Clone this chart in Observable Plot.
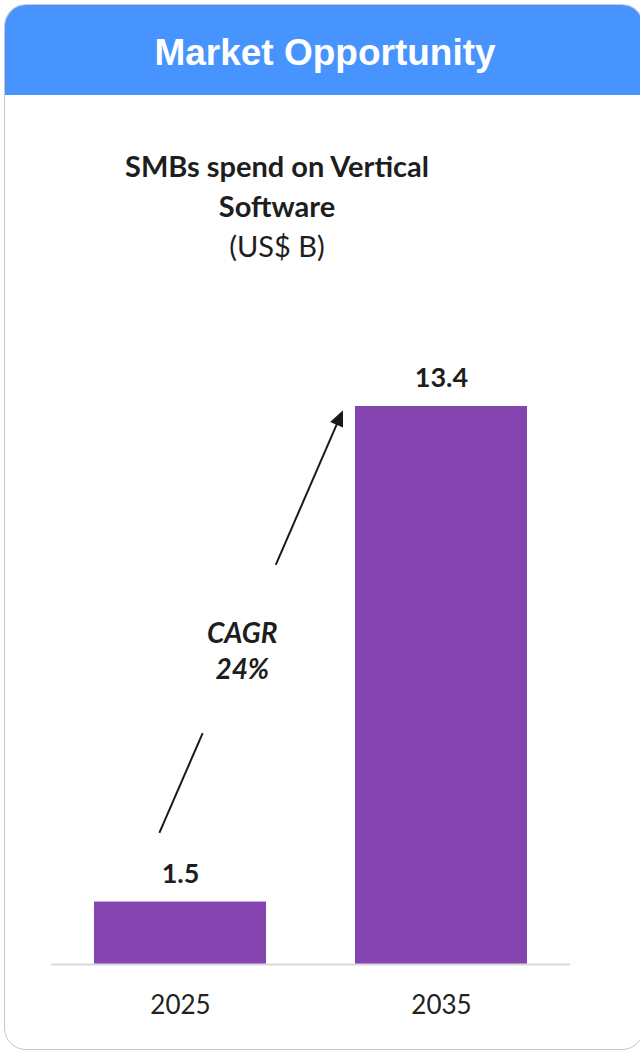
<!DOCTYPE html>
<html>
<head>
<meta charset="utf-8">
<script src="https://cdn.jsdelivr.net/npm/d3@7"></script>
<script src="https://cdn.jsdelivr.net/npm/@observablehq/plot@0.6"></script>
<style>
  html, body { margin: 0; padding: 0; background: #fff; }
  body { width: 640px; height: 1053px; position: relative; overflow: hidden; font-family: Lato, "Open Sans", sans-serif; }
  #card { position: absolute; left: 4px; top: 4px; width: 640px; height: 1046px; box-sizing: border-box;
          border: 1.5px solid #c8c8c8; border-radius: 22px; overflow: hidden; background: #fff; }
  #header { position: absolute; left: 0; top: 0; width: 100%; height: 90px; background: #4794fe; }
  #title { position: absolute; left: 0; width: 640px; top: 0; height: 90px; line-height: 96px; text-align: center;
           color: #fff; font-family: "Liberation Sans", Arial, sans-serif; font-weight: bold; font-size: 37px; }
  #subtitle { position: absolute; left: 57px; width: 440px; top: 146px; text-align: center; color: #1e1e1e;
              font-family: Lato, sans-serif; font-size: 29px; line-height: 40px; }
  #subtitle .b { font-weight: bold; }
  #chart { position: absolute; left: 0; top: 300px; }
</style>
</head>
<body>
<div id="card">
  <div id="header"></div>
  <div id="title">Market Opportunity</div>
</div>
<div id="subtitle"><div class="b">SMBs spend on Vertical</div><div class="b">Software</div><div>(US$ B)</div></div>
<div id="chart"></div>
<script>
const years = ["2025", "2035"];
const spend = [1.5, 13.4];
const valueLabels = ["1.5", "13.4"];
const cagrLines = ["CAGR", "24%"];

const data = years.map((year, i) => ({year, value: spend[i], label: valueLabels[i]}));

function cagrArrow(index, scales) {
  const x = scales.x, y = scales.y;
  let bw = x.bandwidth;
  if (typeof bw === "function") bw = bw();
  const xa = x(years[0]) + 0.38 * bw, ya = y(3.15);
  const xb = x(years[1]) - 0.07 * bw, yb = y(13.3);
  const dx = xb - xa, dy = yb - ya;
  const len = Math.hypot(dx, dy);
  const ux = dx / len, uy = dy / len;
  const nx = -uy, ny = ux;
  const pt = t => [xa + dx * t, ya + dy * t];
  const g = d3.create("svg:g");
  const headL = 16, headW = 7;
  const segs = [[0, 0.236], [0.634, 1 - headL / len * 0.6]];
  for (const [t0, t1] of segs) {
    const [p0x, p0y] = pt(t0), [p1x, p1y] = pt(t1);
    g.append("line").attr("x1", p0x).attr("y1", p0y).attr("x2", p1x).attr("y2", p1y)
      .attr("stroke", "#1a1a1a").attr("stroke-width", 2);
  }
  const bx = xb - ux * headL, by = yb - uy * headL;
  g.append("path")
    .attr("d", `M${xb},${yb}L${bx + nx * headW},${by + ny * headW}L${bx - nx * headW},${by - ny * headW}Z`)
    .attr("fill", "#1a1a1a");
  const [cx, cy] = pt(0.43);
  const txt = g.append("text").attr("text-anchor", "middle")
    .attr("font-family", "Lato, sans-serif").attr("font-weight", "bold").attr("font-style", "italic")
    .attr("font-size", 28).attr("fill", "#1e1e1e");
  cagrLines.forEach((s, i) => {
    txt.append("tspan").attr("x", cx + 4).attr("y", cy - 8 + i * 36).text(s);
  });
  return g.node();
}

const chart = Plot.plot({
  width: 640,
  height: 740,
  marginLeft: 51,
  marginRight: 70,
  marginTop: 81,
  marginBottom: 76,
  x: {domain: years, paddingInner: 0.34, paddingOuter: 0.164, label: null},
  y: {domain: [0, 14], axis: null},
  style: {fontFamily: "Lato, sans-serif", background: "transparent", overflow: "visible"},
  marks: [
    Plot.barY(data, {x: "year", y: "value", fill: "#8445b1"}),
    Plot.ruleY([0], {stroke: "#d9d9d9", strokeWidth: 2}),
    Plot.text(data, {x: "year", y: "value", text: "label", dy: -28, fontSize: 27, fontWeight: "bold", fill: "#1e1e1e"}),
    Plot.axisX({tickSize: 0, tickPadding: 31, fontSize: 26, fill: "#222", label: null}),
    cagrArrow
  ]
});
document.getElementById("chart").appendChild(chart);
</script>
</body>
</html>
